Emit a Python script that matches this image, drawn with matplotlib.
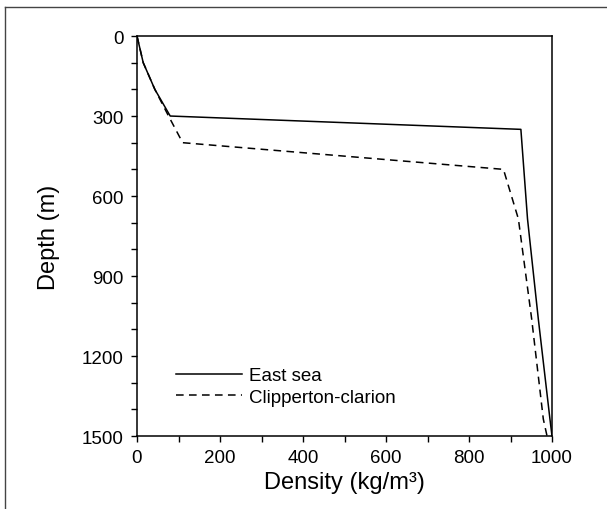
import matplotlib
matplotlib.use('Agg')
import matplotlib.pyplot as plt
from matplotlib.lines import Line2D
from matplotlib.ticker import MultipleLocator

# data
east_density = [0, 15, 43, 80, 925, 941, 967, 995, 1000]
east_depth = [0, 100, 200, 300, 350, 686, 1061, 1436, 1500]

clip_density = [0, 15, 43, 76, 110, 883, 919, 951, 979, 988]
clip_depth = [0, 100, 200, 300, 400, 500, 686, 1061, 1436, 1500]

plt.rcParams['font.family'] = ['Liberation Sans', 'DejaVu Sans']

fig = plt.figure(figsize=(6.07, 5.10), dpi=100)
ax = fig.add_axes([0.2257, 0.1431, 0.6837, 0.7843])

ax.plot(east_density, east_depth, color='black', lw=1.1, label='East sea')
ax.plot(clip_density, clip_depth, color='black', lw=1.1, ls=(0, (5, 3.5)),
        label='Clipperton-clarion')

ax.set_xlim(0, 1000)
ax.set_ylim(1500, 0)
ax.xaxis.set_major_locator(MultipleLocator(200))
ax.xaxis.set_minor_locator(MultipleLocator(100))
ax.yaxis.set_major_locator(MultipleLocator(300))
ax.yaxis.set_minor_locator(MultipleLocator(100))
ax.tick_params(which='both', direction='out', length=4, width=1, labelsize=13.5,
               top=False, right=False)
ax.tick_params(axis='x', pad=5)
ax.tick_params(axis='y', pad=5.5)

for s in ax.spines.values():
    s.set_linewidth(1.1)

ax.set_xlabel('Density (kg/m³)', fontsize=17, labelpad=4)
ax.set_ylabel('Depth (m)', fontsize=17, labelpad=16)

ax.legend(loc='upper left', bbox_to_anchor=(0.094, 0.1725), frameon=False,
          fontsize=13.5, borderpad=0, borderaxespad=0, handlelength=3.5,
          handletextpad=0.4, labelspacing=0.25)

# outer frame (top and left edges only)
fig.add_artist(Line2D([5 / 607, 1], [1 - 8 / 510, 1 - 8 / 510],
                      transform=fig.transFigure, color='#444444', lw=1))
fig.add_artist(Line2D([5 / 607, 5 / 607], [0, 1 - 8 / 510],
                      transform=fig.transFigure, color='#444444', lw=1))

fig.savefig('out.png', dpi=100)
